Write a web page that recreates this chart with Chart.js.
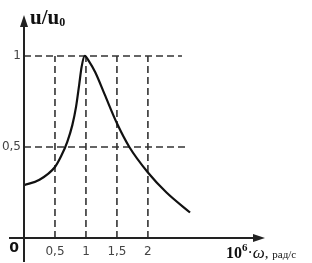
<!DOCTYPE html>
<html>
<head>
<meta charset="utf-8">
<script src="https://cdn.jsdelivr.net/npm/chart.js@4.4.1/dist/chart.umd.min.js"></script>
<style>
  html,body{margin:0;padding:0;background:#fff;}
  #wrap{width:312px;height:263px;position:relative;}
</style>
</head>
<body>
<div id="wrap"><canvas id="chart"></canvas></div>
<script>
// resonance curve
const omega = [0, 0.25, 0.5, 0.6, 0.7, 0.78, 0.84, 0.89, 0.93, 0.98, 1.05, 1.15, 1.3, 1.5, 1.7, 2.0, 2.3, 2.68];
const ratio = [0.29, 0.32, 0.39, 0.45, 0.53, 0.62, 0.72, 0.84, 0.94, 1.0, 0.97, 0.91, 0.79, 0.63, 0.50, 0.36, 0.25, 0.14];

const xTicks = [0.5, 1, 1.5, 2];
const xTickLabels = ["0,5", "1", "1,5", "2"];
const yTicks = [0.5, 1];
const yTickLabels = ["0,5", "1"];
const hGuideEnd = [2.6, 2.55]; // how far the dashed horizontals run

const curve = omega.map((w,i)=>({x:w, y:ratio[i]}));

const dashStyle = {borderColor:"#333", borderWidth:1.6, borderDash:[7,4], pointRadius:0, tension:0, fill:false};
const guides = [];
xTicks.forEach(t=>{
  guides.push(Object.assign({data:[{x:t,y:0},{x:t,y:1}]}, dashStyle));
});
yTicks.forEach((t,i)=>{
  guides.push(Object.assign({data:[{x:0,y:t},{x:hGuideEnd[i],y:t}]}, dashStyle));
});

// axes with arrows and hand placed tick text
const axesPlugin = {
  id:"axes",
  afterDatasetsDraw(chart){
    const ctx = chart.ctx;
    const xs = chart.scales.x, ys = chart.scales.y;
    const x0 = xs.getPixelForValue(0), y0 = ys.getPixelForValue(0);
    const xEnd = xs.right, yTop = ys.top;
    ctx.save();
    ctx.strokeStyle = "#222";
    ctx.fillStyle = "#222";
    ctx.lineWidth = 2;
    ctx.beginPath();
    ctx.moveTo(x0 - 15, y0); ctx.lineTo(xEnd - 6, y0);
    ctx.moveTo(x0, y0 + 24); ctx.lineTo(x0, yTop + 6);
    ctx.stroke();
    // arrowheads
    ctx.beginPath();
    ctx.moveTo(xEnd, y0); ctx.lineTo(xEnd - 12, y0 - 4); ctx.lineTo(xEnd - 12, y0 + 4); ctx.closePath();
    ctx.fill();
    ctx.beginPath();
    ctx.moveTo(x0, yTop); ctx.lineTo(x0 - 4, yTop + 12); ctx.lineTo(x0 + 4, yTop + 12); ctx.closePath();
    ctx.fill();

    ctx.fillStyle = "#444";
    ctx.font = "12px 'DejaVu Sans'";
    ctx.textBaseline = "middle";
    ctx.textAlign = "center";
    xTicks.forEach((t,i)=>{
      ctx.fillText(xTickLabels[i], xs.getPixelForValue(t), y0 + 14);
    });
    ctx.textAlign = "right";
    yTicks.forEach((t,i)=>{
      ctx.fillText(yTickLabels[i], x0 - 3, ys.getPixelForValue(t));
    });
    ctx.font = "bold 14px 'DejaVu Sans'";
    ctx.textAlign = "center";
    ctx.fillStyle = "#111";
    ctx.fillText("0", x0 - 10, y0 + 10);

    // y label
    ctx.textAlign = "left";
    ctx.textBaseline = "alphabetic";
    ctx.font = "bold 21px 'Liberation Serif'";
    ctx.fillText("u/u", x0 + 6, yTop + 9);
    let w = ctx.measureText("u/u").width;
    ctx.font = "bold 12px 'Liberation Serif'";
    ctx.fillText("0", x0 + 6 + w, yTop + 11);

    // x label
    let lx = 226, ly = y0 + 20;
    ctx.font = "bold 16px 'Liberation Serif'";
    ctx.fillText("10", lx, ly);
    lx += ctx.measureText("10").width;
    ctx.font = "bold 11px 'Liberation Serif'";
    ctx.fillText("6", lx, ly - 7);
    lx += ctx.measureText("6").width;
    ctx.font = "16px 'Liberation Serif'";
    ctx.fillText("·", lx, ly);
    lx += ctx.measureText("·").width;
    ctx.font = "italic 17px 'Liberation Serif'";
    ctx.fillText("ω", lx, ly);
    lx += ctx.measureText("ω").width;
    ctx.font = "15px 'Liberation Serif'";
    ctx.fillText(",", lx, ly);
    lx += ctx.measureText(", ").width;
    ctx.font = "11px 'Liberation Serif'";
    ctx.fillText("рад/с", lx, ly);
    ctx.restore();
  }
};

new Chart(document.getElementById("chart"),{
  type:"line",
  data:{
    datasets:[
      {data:curve, borderColor:"#111", borderWidth:2.2, pointRadius:0, cubicInterpolationMode:"monotone", fill:false}
    ].concat(guides)
  },
  options:{
    responsive:true,
    maintainAspectRatio:false,
    animation:false,
    events:[],
    layout:{padding:{left:24, right:47, top:15, bottom:25}},
    plugins:{legend:{display:false}, tooltip:{enabled:false}},
    scales:{
      x:{type:"linear", min:0, max:3.89, display:false},
      y:{type:"linear", min:0, max:1.225, display:false}
    }
  },
  plugins:[axesPlugin]
});
</script>
</body>
</html>
